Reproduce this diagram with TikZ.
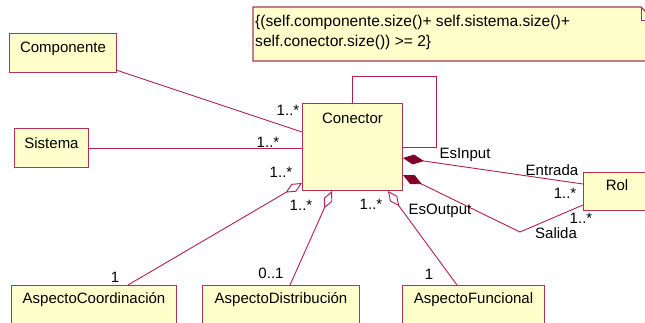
\documentclass[tikz,border=0pt]{standalone}
\usepackage{fontspec}
\setmainfont{Liberation Sans}
\usetikzlibrary{arrows.meta,calc}
\definecolor{bord}{RGB}{176,48,96}
\definecolor{lncol}{RGB}{176,32,80}
\definecolor{boxfill}{RGB}{255,255,204}
\definecolor{dia}{RGB}{128,0,40}
\tikzset{
  cls/.style={draw=bord, fill=boxfill, line width=1pt, anchor=north west, inner sep=0pt},
  lab/.style={font=\fontsize{15}{20}\selectfont, inner sep=0pt, text height=10.7pt, text depth=0pt},
  ln/.style={draw=lncol, line width=0.9pt},
  agg/.style={-{Diamond[length=19pt,width=9pt,fill=white,line width=0.9pt]}},
  comp/.style={{Diamond[length=21pt,width=10pt,fill=dia,color=dia]}-},
}
\begin{document}
\begin{tikzpicture}[x=1pt,y=-1pt]
\useasboundingbox[fill=white] (0,0) rectangle (645,322);
% note
\path[draw=bord, fill=boxfill, line width=1.2pt] (253,7) coordinate (nnw) -- (641,7) coordinate (nfold) -- (655,21) -- (655,61) -- (253,61) -- cycle;
\draw[bord, line width=1pt] (nfold) |- (655,20);
\node[font=\fontsize{15.6}{20}\selectfont, inner sep=0pt, anchor=north west, align=left] (notetext) at (255,15)
  {\{(self.componente.size()+ self.sistema.size()+\\self.conector.size()) >= 2\}};
% classes
\node[cls, minimum width=107pt, minimum height=39pt] (comp) at (9,33) {};
\node[lab] (compt) at ($(comp.north)+(0,14)$) {Componente};
\node[cls, minimum width=74pt, minimum height=39pt] (sis) at (14,128) {};
\node[lab] (sist) at ($(sis.north)+(0,15)$) {Sistema};
\node[cls, minimum width=100pt, minimum height=87pt] (con) at (302,103) {};
\node[lab] (cont) at ($(con.north)+(0,15)$) {Conector};
\node[cls, minimum width=80pt, minimum height=38pt] (rol) at (583,172) {};
\node[lab] (rolt) at (617,185) {Rol};
\node[cls, minimum width=165pt, minimum height=50pt] (coord) at (11,285) {};
\node[lab] (coordt) at ($(coord.north)+(0,13)$) {AspectoCoordinación};
\node[cls, minimum width=157pt, minimum height=50pt] (dist) at (202,285) {};
\node[lab] (distt) at ($(dist.north)+(0,13)$) {AspectoDistribución};
\node[cls, minimum width=142pt, minimum height=50pt] (func) at (402,285) {};
\node[lab] (funct) at ($(func.north)+(0,13)$) {AspectoFuncional};
% connection points
\coordinate (c1) at ($(comp.north west)+(107,37)$);
\coordinate (c2) at ($(con.north west)+(0,29)$);
\coordinate (loopc) at (436,76);
\coordinate (coordTop) at ($(coord.north west)+(117,0)$);
\coordinate (conA) at ($(con.north west)+(0,80)$);
\coordinate (distTop) at ($(dist.north west)+(88,0)$);
\coordinate (conB) at ($(con.south west)+(30,0)$);
\coordinate (funcTop) at ($(func.north west)+(55,0)$);
\coordinate (conC) at ($(con.south west)+(86,0)$);
\coordinate (conD) at ($(con.north east)+(0,55)$);
\coordinate (rolA) at ($(rol.north west)+(0,12)$);
\coordinate (conE) at ($(con.north east)+(0,72)$);
\coordinate (salv) at (520,232);
\coordinate (rolB) at ($(rol.north west)+(0,33)$);
% connectors
\draw[ln] (c1) -- (c2);
\draw[ln] (sis.east) -- (sis.east -| con.west);
\draw[ln] (con.north) |- (loopc) |- (con.east);
\draw[ln, agg] (coordTop) -- (conA);
\draw[ln, agg] (distTop) -- (conB);
\draw[ln, agg] (funcTop) -- (conC);
\draw[ln, comp] (conD) -- (rolA);
\draw[ln, comp] (conE) -- (salv) -- (rolB);
% labels
\node[lab] (m1) at (288,110) {1..*};
\node[lab] (m2) at (268,142) {1..*};
\node[lab] (m3) at (281,172) {1..*};
\node[lab] (m4) at (115,277) {1};
\node[lab] (m5) at (301,205) {1..*};
\node[lab] (m6) at (271,273) {0..1};
\node[lab] (m7) at (371,204) {1..*};
\node[lab] (m8) at (429,274) {1};
\node[lab] (esout) at (440,209) {EsOutput};
\node[lab] (esin) at (465,153) {EsInput};
\node[lab] (entr) at (552,170) {Entrada};
\node[lab] (m9) at (565,193) {1..*};
\node[lab] (m10) at (581,218) {1..*};
\node[lab] (sal) at (556,233) {Salida};
\end{tikzpicture}
\end{document}
